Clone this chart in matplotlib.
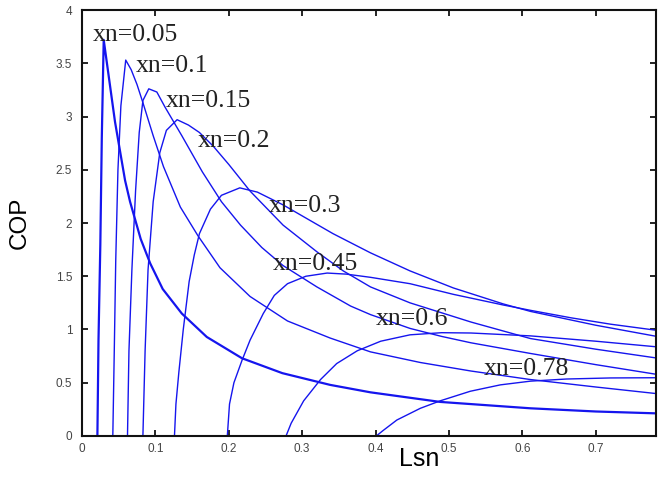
import matplotlib
matplotlib.use("Agg")
import matplotlib.pyplot as plt

# COP vs Lsn for several xn
xn_labels = ['xn=0.05', 'xn=0.1', 'xn=0.15', 'xn=0.2', 'xn=0.3', 'xn=0.45', 'xn=0.6', 'xn=0.78']

lsn_005 = [0.021, 0.0225, 0.025, 0.027, 0.0296, 0.037, 0.045, 0.0587, 0.0655, 0.08, 0.093, 0.11,
           0.136, 0.17, 0.218, 0.273, 0.338, 0.393, 0.488, 0.611, 0.70, 0.78]
cop_005 = [0.0, 0.9, 1.8, 2.8, 3.72, 3.35, 2.95, 2.40, 2.20, 1.85, 1.62, 1.38,
           1.15, 0.93, 0.73, 0.59, 0.48, 0.41, 0.32, 0.26, 0.23, 0.213]

lsn_01 = [0.042, 0.044, 0.046, 0.049, 0.053, 0.0596, 0.067, 0.075, 0.083, 0.097, 0.111, 0.134,
          0.158, 0.188, 0.229, 0.28, 0.338, 0.393, 0.461, 0.53, 0.611, 0.70, 0.78]
cop_01 = [0.0, 0.8, 1.65, 2.5, 3.1, 3.53, 3.44, 3.3, 3.13, 2.82, 2.53, 2.15,
          1.88, 1.58, 1.31, 1.08, 0.92, 0.79, 0.69, 0.61, 0.53, 0.46, 0.40]

lsn_015 = [0.062, 0.064, 0.068, 0.073, 0.078, 0.083, 0.091, 0.102, 0.113, 0.136, 0.164, 0.19,
           0.216, 0.245, 0.274, 0.32, 0.366, 0.393, 0.447, 0.49, 0.53, 0.611, 0.70, 0.78]
cop_015 = [0.0, 0.8, 1.56, 2.3, 2.85, 3.15, 3.26, 3.23, 3.09, 2.82, 2.48, 2.20,
           1.98, 1.77, 1.60, 1.40, 1.22, 1.14, 1.01, 0.935, 0.875, 0.775, 0.67, 0.582]

lsn_02 = [0.083, 0.086, 0.09, 0.097, 0.106, 0.115, 0.1296, 0.145, 0.16, 0.179, 0.2, 0.229,
          0.274, 0.32, 0.356, 0.393, 0.447, 0.53, 0.611, 0.70, 0.78]
cop_02 = [0.0, 0.8, 1.56, 2.2, 2.66, 2.87, 2.97, 2.92, 2.85, 2.72, 2.55, 2.30,
          1.98, 1.73, 1.55, 1.40, 1.25, 1.07, 0.915, 0.815, 0.735]

lsn_03 = [0.126, 0.128, 0.132, 0.138, 0.146, 0.153, 0.16, 0.175, 0.19, 0.215, 0.239, 0.274,
          0.342, 0.393, 0.447, 0.506, 0.574, 0.611, 0.70, 0.78]
cop_03 = [0.0, 0.3, 0.6, 1.0, 1.45, 1.7, 1.9, 2.13, 2.26, 2.33, 2.29, 2.17,
          1.90, 1.72, 1.55, 1.39, 1.24, 1.17, 1.04, 0.939]

lsn_045 = [0.198, 0.201, 0.207, 0.218, 0.229, 0.247, 0.262, 0.28, 0.305, 0.334, 0.36, 0.393,
           0.447, 0.506, 0.574, 0.611, 0.666, 0.72, 0.78]
cop_045 = [0.0, 0.3, 0.5, 0.71, 0.90, 1.15, 1.32, 1.43, 1.50, 1.53, 1.52, 1.49,
           1.43, 1.33, 1.23, 1.18, 1.11, 1.05, 0.995]

lsn_06 = [0.278, 0.285, 0.302, 0.325, 0.347, 0.375, 0.407, 0.447, 0.49, 0.53, 0.611, 0.70, 0.78]
cop_06 = [0.0, 0.12, 0.33, 0.53, 0.68, 0.80, 0.89, 0.95, 0.97, 0.967, 0.94, 0.89, 0.839]

lsn_078 = [0.401, 0.41, 0.429, 0.461, 0.488, 0.529, 0.57, 0.611, 0.66, 0.72, 0.78]
cop_078 = [0.0, 0.05, 0.15, 0.26, 0.33, 0.42, 0.48, 0.515, 0.535, 0.545, 0.547]

curves = [(lsn_005, cop_005), (lsn_01, cop_01), (lsn_015, cop_015), (lsn_02, cop_02),
          (lsn_03, cop_03), (lsn_045, cop_045), (lsn_06, cop_06), (lsn_078, cop_078)]

# where each xn label sits (left edge, baseline)
label_x = [0.015, 0.0737, 0.1146, 0.158, 0.2538, 0.2606, 0.3997, 0.547]
label_y = [3.71, 3.42, 3.09, 2.71, 2.10, 1.56, 1.04, 0.573]

fig = plt.figure(figsize=(6.59, 4.84), dpi=100)
ax = fig.add_axes([0.1244, 0.0992, 0.871, 0.8801])

for i, (x, y) in enumerate(curves):
    lw = 1.6 if i == 0 else 1.0
    ax.plot(x, y, color='#1515ee', lw=lw)

for txt, lx, ly in zip(xn_labels, label_x, label_y):
    ax.text(lx, ly, txt, family='Liberation Serif', fontsize=18.5,
            ha='left', va='baseline', color='#222222')

ax.set_xlim(0, 0.782)
ax.set_ylim(0, 4)
ax.set_xticks([0, 0.1, 0.2, 0.3, 0.4, 0.5, 0.6, 0.7])
ax.set_xticklabels(['0', '0.1', '0.2', '0.3', '0.4', '0.5', '0.6', '0.7'])
ax.set_yticks([0, 0.5, 1, 1.5, 2, 2.5, 3, 3.5, 4])
ax.set_yticklabels(['0', '0.5', '1', '1.5', '2', '2.5', '3', '3.5', '4'])
ax.tick_params(direction='in', top=True, right=True, length=4, width=1.2,
               labelsize=8.5, labelcolor='#444444')
ax.tick_params(axis='x', pad=5)
ax.tick_params(axis='y', pad=7)
for lab in ax.get_xticklabels() + ax.get_yticklabels():
    lab.set_family('Liberation Sans')
for s in ax.spines.values():
    s.set_linewidth(1.5)
    s.set_color('#111111')

ax.set_ylabel('COP', family='Liberation Sans', fontsize=17.5, labelpad=18)
ax.text(0.587, -0.054, 'Lsn', transform=ax.transAxes, family='Liberation Sans',
        fontsize=18, ha='center', va='center')

fig.savefig('out.png', dpi=100)
